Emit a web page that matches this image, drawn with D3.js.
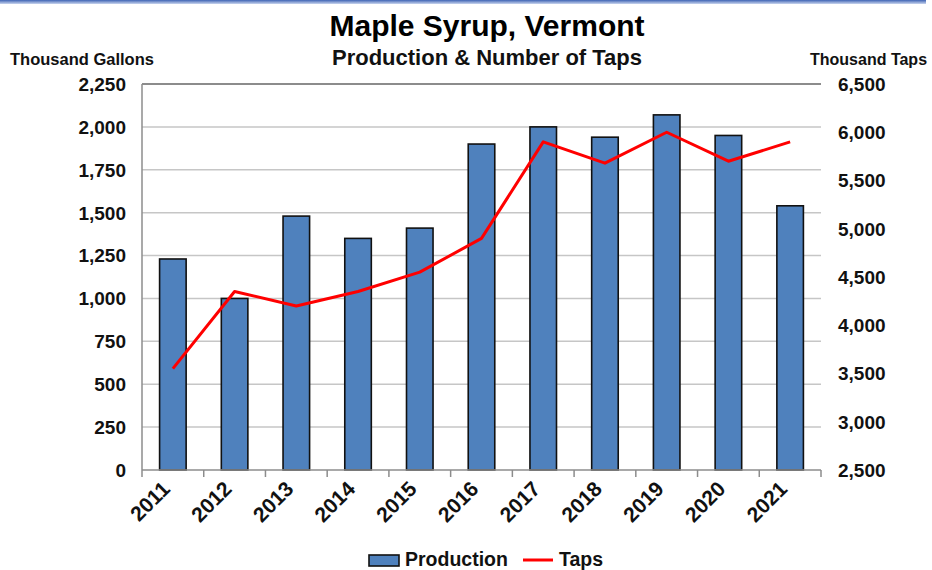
<!DOCTYPE html>
<html>
<head>
<meta charset="utf-8">
<script src="https://cdn.jsdelivr.net/npm/d3@7"></script>
<style>
  body { margin: 0; background: #fff; }
  svg { display: block; font-family: "Liberation Sans", Arial, sans-serif; }
</style>
</head>
<body>
<div id="chart"></div>
<script>
// data
var years = ["2011", "2012", "2013", "2014", "2015", "2016", "2017", "2018", "2019", "2020", "2021"];
var production = [1230, 1000, 1480, 1350, 1410, 1900, 2000, 1940, 2070, 1950, 1540];   // thousand gallons
var taps = [3550, 4350, 4200, 4350, 4550, 4900, 5900, 5680, 6000, 5700, 5900];         // thousand taps
var leftTicks = [0, 250, 500, 750, 1000, 1250, 1500, 1750, 2000, 2250];
var rightTicks = [2500, 3000, 3500, 4000, 4500, 5000, 5500, 6000, 6500];

var width = 932, height = 570;
var plot = { left: 142, right: 821, top: 84, bottom: 470 };

var svg = d3.select("#chart").append("svg")
  .attr("width", width)
  .attr("height", height);

// top blue rule
var grad = svg.append("defs").append("linearGradient")
  .attr("id", "rule").attr("x1", 0).attr("x2", 0).attr("y1", 0).attr("y2", 1);
grad.append("stop").attr("offset", "0%").attr("stop-color", "#3f64b4");
grad.append("stop").attr("offset", "100%").attr("stop-color", "#c9d5ee");
svg.append("rect").attr("x", 0).attr("y", 0).attr("width", 926).attr("height", 4).attr("fill", "url(#rule)");

var x = d3.scaleBand().domain(years).range([plot.left, plot.right]).paddingInner(0).paddingOuter(0);
var yL = d3.scaleLinear().domain([0, 2250]).range([plot.bottom, plot.top]);
var yR = d3.scaleLinear().domain([2500, 6500]).range([plot.bottom, plot.top]);
var barW = x.bandwidth() * 0.43;
var fmt = d3.format(",");

// gridlines
svg.append("g").selectAll("line")
  .data(leftTicks.slice(1))
  .enter().append("line")
  .attr("x1", plot.left).attr("x2", plot.right)
  .attr("y1", function(d) { return yL(d); })
  .attr("y2", function(d) { return yL(d); })
  .attr("stroke", function(d) { return d === 2250 ? "#8c8c8c" : "#c6c6c6"; })
  .attr("stroke-width", function(d) { return d === 2250 ? 2 : 1.5; });

// left axis line
svg.append("line")
  .attr("x1", plot.left).attr("x2", plot.left)
  .attr("y1", plot.top).attr("y2", plot.bottom)
  .attr("stroke", "#8c8c8c").attr("stroke-width", 1.5);

// bars
svg.append("g").selectAll("rect")
  .data(production)
  .enter().append("rect")
  .attr("x", function(d, i) { return x(years[i]) + (x.bandwidth() - barW) / 2; })
  .attr("y", function(d) { return yL(d); })
  .attr("width", barW)
  .attr("height", function(d) { return yL(0) - yL(d); })
  .attr("fill", "#4f81bd")
  .attr("stroke", "#111")
  .attr("stroke-width", 1.6);

// bottom axis with ticks on category boundaries
svg.append("line")
  .attr("x1", plot.left).attr("x2", plot.right)
  .attr("y1", plot.bottom).attr("y2", plot.bottom)
  .attr("stroke", "#8c8c8c").attr("stroke-width", 1.5);
var bounds = years.map(function(y) { return x(y); }).concat([plot.right]);
svg.append("g").selectAll("line")
  .data(bounds)
  .enter().append("line")
  .attr("x1", function(d) { return d; }).attr("x2", function(d) { return d; })
  .attr("y1", plot.bottom).attr("y2", plot.bottom + 7)
  .attr("stroke", "#8c8c8c").attr("stroke-width", 1.5);

// taps line
var line = d3.line()
  .x(function(d, i) { return x(years[i]) + x.bandwidth() / 2; })
  .y(function(d) { return yR(d); });
svg.append("path")
  .datum(taps)
  .attr("d", line)
  .attr("fill", "none")
  .attr("stroke", "#ff0000")
  .attr("stroke-width", 3)
  .attr("stroke-linejoin", "round");

// left tick labels
svg.append("g").selectAll("text")
  .data(leftTicks)
  .enter().append("text")
  .attr("x", 126)
  .attr("y", function(d) { return yL(d); })
  .attr("dy", "0.36em")
  .attr("text-anchor", "end")
  .attr("font-size", 19).attr("font-weight", "bold").attr("fill", "#111")
  .text(function(d) { return fmt(d); });

// right tick labels
svg.append("g").selectAll("text")
  .data(rightTicks)
  .enter().append("text")
  .attr("x", 838)
  .attr("y", function(d) { return yR(d); })
  .attr("dy", "0.36em")
  .attr("text-anchor", "start")
  .attr("font-size", 19).attr("font-weight", "bold").attr("fill", "#111")
  .text(function(d) { return fmt(d); });

// year labels
svg.append("g").selectAll("text")
  .data(years)
  .enter().append("text")
  .attr("transform", function(d) {
    return "translate(" + (x(d) + x.bandwidth() / 2 - 7) + "," + (plot.bottom + 15) + ") rotate(-45)";
  })
  .attr("text-anchor", "end")
  .attr("dy", "0.36em")
  .attr("font-size", 21).attr("font-weight", "bold").attr("fill", "#111")
  .text(function(d) { return d; });

// titles
svg.append("text").attr("x", 487).attr("y", 36).attr("text-anchor", "middle")
  .attr("font-size", 30).attr("font-weight", "bold").attr("fill", "#000")
  .text("Maple Syrup, Vermont");
svg.append("text").attr("x", 487).attr("y", 65).attr("text-anchor", "middle")
  .attr("font-size", 22).attr("font-weight", "bold").attr("fill", "#111")
  .text("Production & Number of Taps");
svg.append("text").attr("x", 10).attr("y", 65)
  .attr("font-size", 16.5).attr("font-weight", "bold").attr("fill", "#111")
  .text("Thousand Gallons");
svg.append("text").attr("x", 810).attr("y", 65)
  .attr("font-size", 16).attr("font-weight", "bold").attr("fill", "#111")
  .text("Thousand Taps");

// legend
var leg = svg.append("g");
leg.append("rect").attr("x", 369).attr("y", 555).attr("width", 30).attr("height", 11)
  .attr("fill", "#4f81bd").attr("stroke", "#111").attr("stroke-width", 1.6);
leg.append("text").attr("x", 405).attr("y", 566)
  .attr("font-size", 19.5).attr("font-weight", "bold").attr("fill", "#111")
  .text("Production");
leg.append("line").attr("x1", 523).attr("x2", 553).attr("y1", 560).attr("y2", 560)
  .attr("stroke", "#ff0000").attr("stroke-width", 3);
leg.append("text").attr("x", 559).attr("y", 566)
  .attr("font-size", 19.5).attr("font-weight", "bold").attr("fill", "#111")
  .text("Taps");
</script>
</body>
</html>
